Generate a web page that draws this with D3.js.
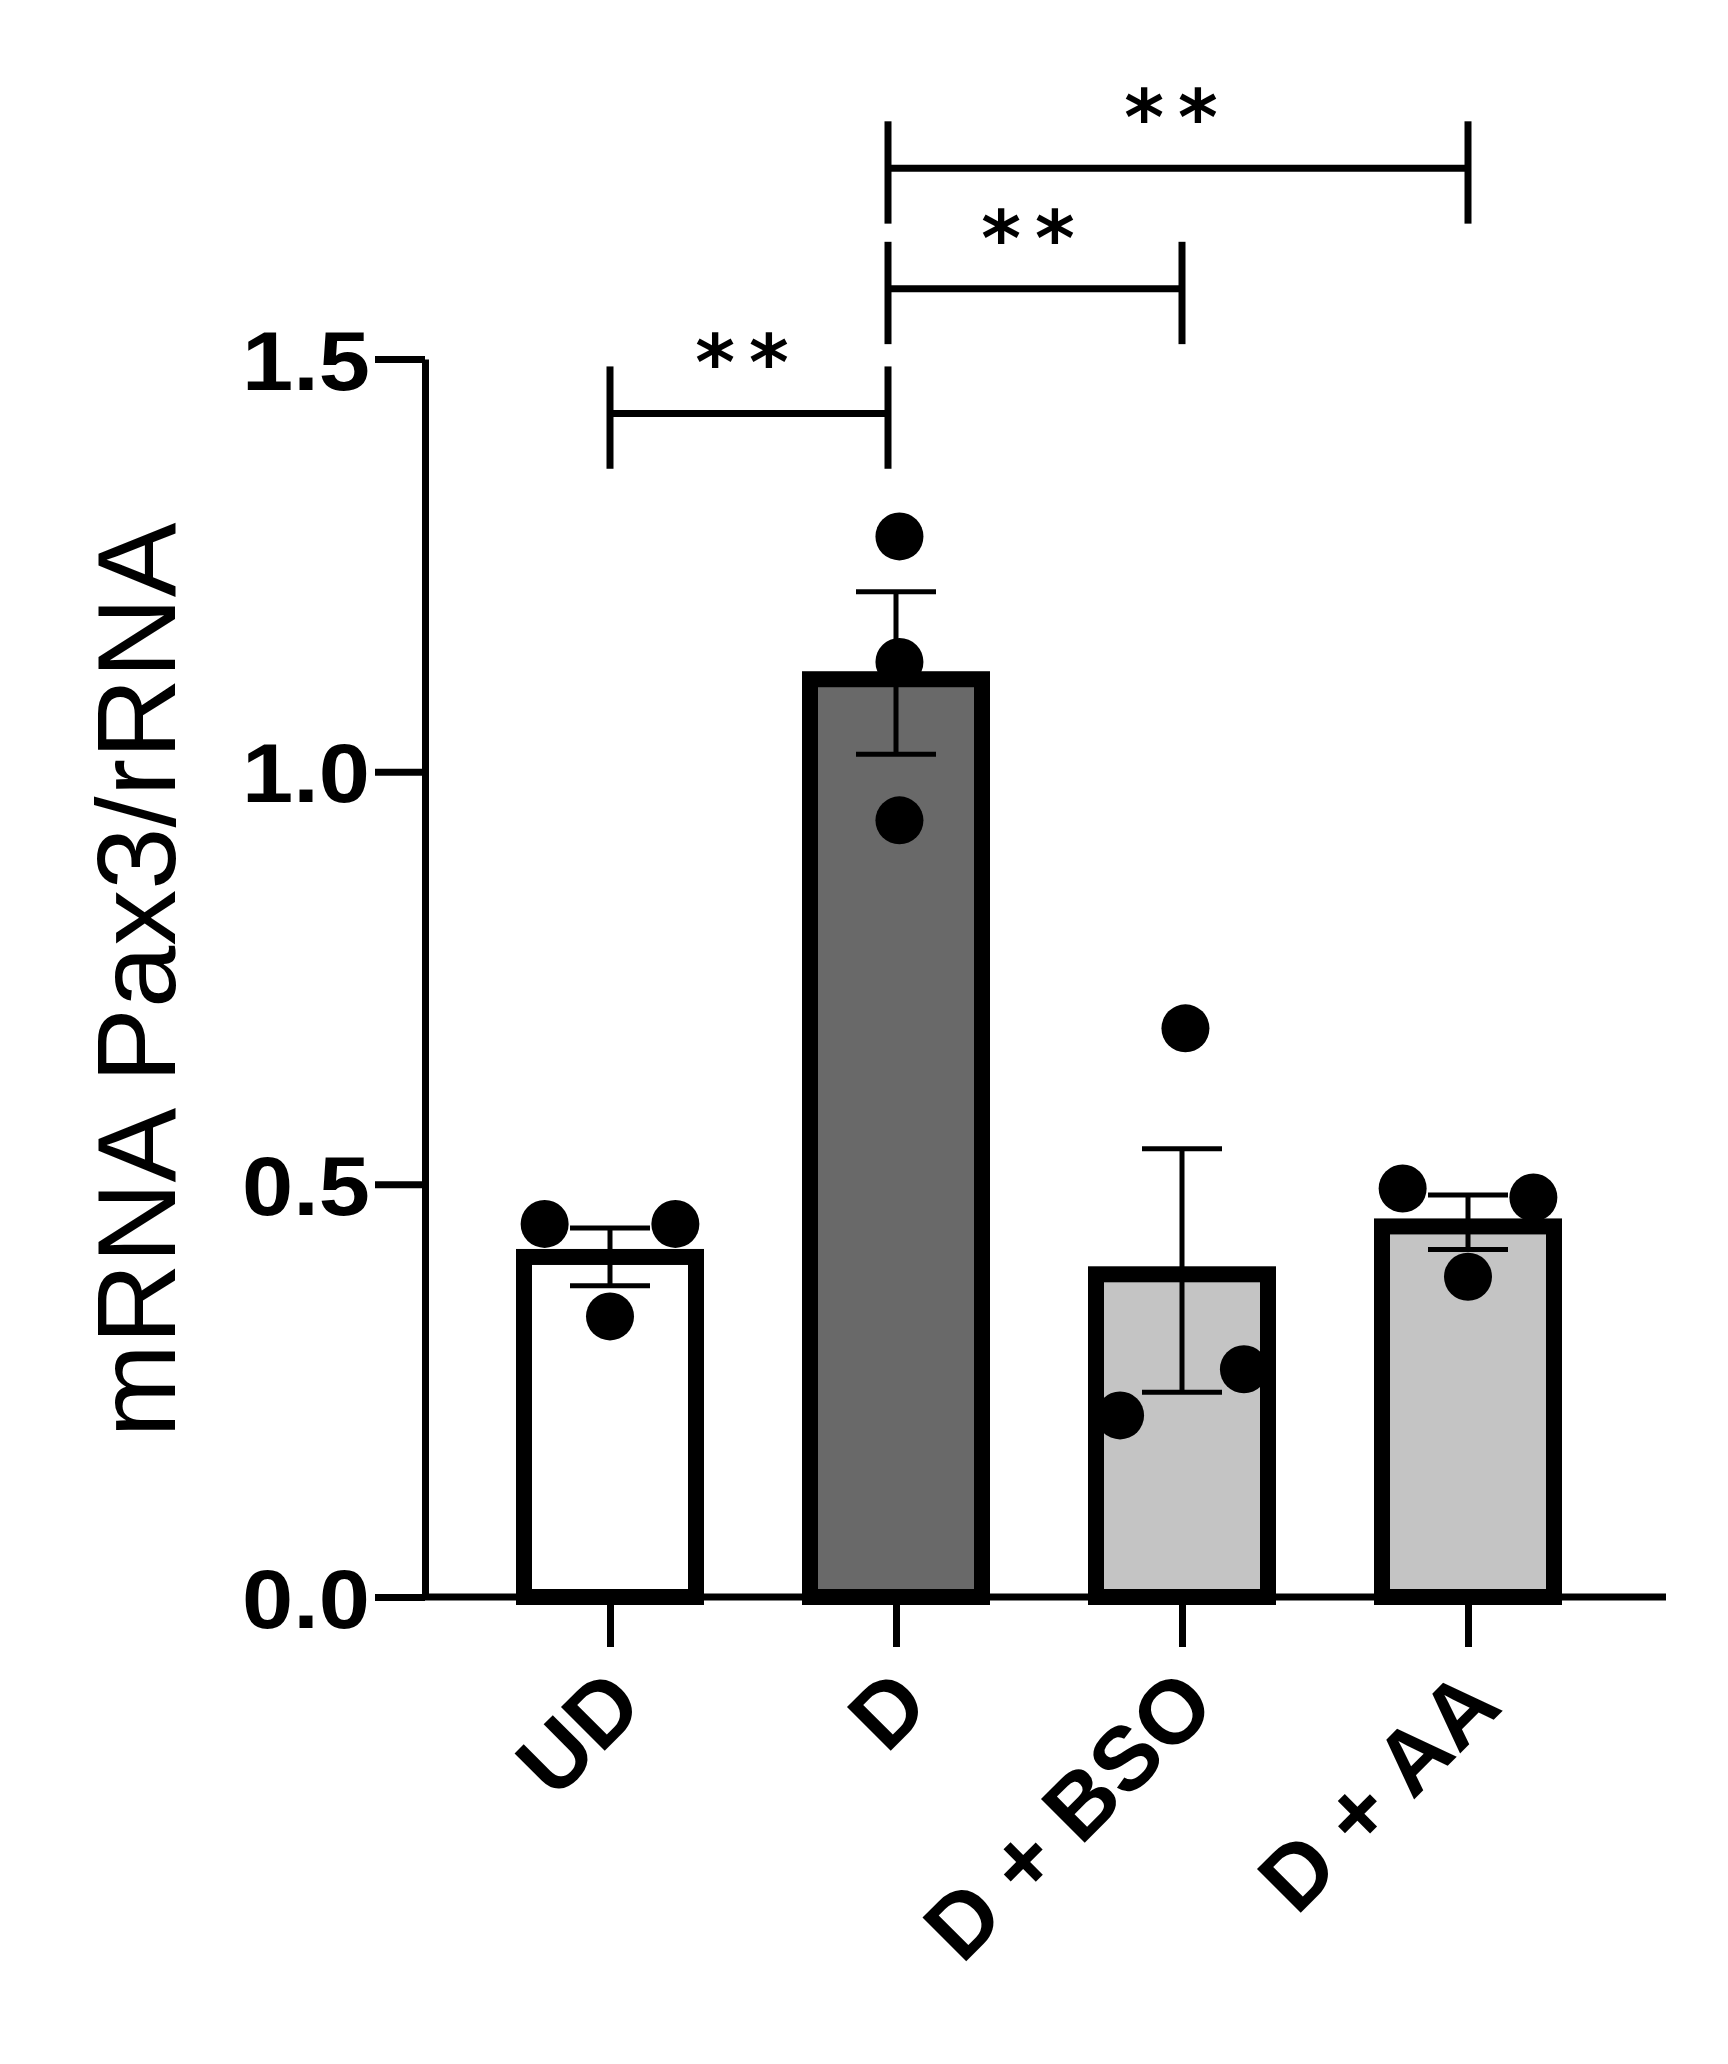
<!DOCTYPE html>
<html><head><meta charset="utf-8">
<script src="https://cdn.jsdelivr.net/npm/d3@7"></script>
<style>body{margin:0;background:#fff}</style></head>
<body><svg id="c" width="1728" height="2064"></svg>
<script>
const categories = ["UD","D","D + BSO","D + AA"];
const means = [0.412, 1.112, 0.391, 0.449];
const errHigh = [0.447, 1.218, 0.543, 0.487];
const errLow = [0.377, 1.021, 0.248, 0.421];
const points = [[0.452,0.452,0.34],[1.285,1.133,0.941],[0.689,0.276,0.22],[0.495,0.484,0.388]];
const pointOffsets = [[-0.38,0.38,0],[0.02,0.02,0.02],[0.02,0.36,-0.36],[-0.38,0.38,0]];
const fills = ["#ffffff","#696969","#c4c4c4","#c4c4c4"];
const yTicks = [0, 0.5, 1.0, 1.5];
const sig = [{a:0,b:1,y:1.434,label:"**"},{a:1,b:2,y:1.585,label:"**"},{a:1,b:3,y:1.731,label:"**"}];

const svg = d3.select("#c");
const y = d3.scaleLinear().domain([0,1.5]).range([1597,359]);
const x = d3.scalePoint().domain(categories).range([610,1468]);
const bw = 172;
const lw = 7;

const ya = svg.append("g").attr("transform","translate(425,0)")
  .call(d3.axisLeft(y).tickValues(yTicks).tickFormat(d3.format(".1f")).tickSize(50).tickSizeOuter(0));
ya.select(".domain").attr("stroke","#000").attr("stroke-width",lw);
ya.selectAll(".tick line").attr("stroke-width",lw);
ya.selectAll("text").attr("font-family","Liberation Sans, Arial").attr("font-weight","bold").attr("font-size",84)
  .attr("dx",-2).attr("dy","0.36em").attr("fill","#000").attr("textLength",128).attr("lengthAdjust","spacingAndGlyphs");

const xa = svg.append("g").attr("transform","translate(0,1597)")
  .call(d3.axisBottom(x).tickSize(50).tickSizeOuter(0));
xa.select(".domain").attr("d","M425,0H1666").attr("stroke","#000").attr("stroke-width",lw);
xa.selectAll(".tick line").attr("stroke-width",lw);
xa.selectAll("text").attr("font-family","Liberation Sans, Arial").attr("font-weight","bold").attr("font-size",90).attr("fill","#000")
  .attr("text-anchor","end").attr("dy",0).attr("y",0)
  .attr("transform","translate(36,112) rotate(-45)");

svg.append("text").attr("transform","translate(175,980) rotate(-90)").attr("text-anchor","middle")
  .attr("font-family","Liberation Sans, Arial").attr("font-size",112).text("mRNA Pax3/rRNA");

svg.selectAll(".bar").data(categories).enter().append("rect")
  .attr("x",d=>x(d)-bw/2).attr("width",bw)
  .attr("y",(d,i)=>y(means[i])).attr("height",(d,i)=>y(0)-y(means[i]))
  .attr("fill",(d,i)=>fills[i]).attr("stroke","#000").attr("stroke-width",16);

categories.forEach((c,i)=>{
  const cx = x(c);
  const g = svg.append("g").attr("stroke","#000").attr("stroke-width",5);
  g.append("line").attr("x1",cx).attr("x2",cx).attr("y1",y(errHigh[i])).attr("y2",y(errLow[i]));
  g.append("line").attr("x1",cx-40).attr("x2",cx+40).attr("y1",y(errHigh[i])).attr("y2",y(errHigh[i]));
  g.append("line").attr("x1",cx-40).attr("x2",cx+40).attr("y1",y(errLow[i])).attr("y2",y(errLow[i]));
  points[i].forEach((v,j)=>{
    svg.append("circle").attr("cx",cx+pointOffsets[i][j]*bw).attr("cy",y(v)).attr("r",24).attr("fill","#000");
  });
});

sig.forEach(s=>{
  const x1 = x(categories[s.a]) + (s.a===1?-8:0), x2 = x(categories[s.b]) + (s.b===1?-8:0);
  const g = svg.append("g").attr("stroke","#000").attr("stroke-width",lw);
  g.append("line").attr("x1",x1).attr("x2",x2).attr("y1",y(s.y)).attr("y2",y(s.y));
  [x1,x2].forEach(xx=>g.append("line").attr("x1",xx).attr("x2",xx).attr("y1",y(s.y+0.057)).attr("y2",y(s.y-0.067)));
  svg.append("text").attr("x",(x1+x2)/2).attr("y",y(s.y)-24).attr("text-anchor","middle")
    .attr("font-family","DejaVu Sans").attr("font-weight","bold").attr("font-size",76).attr("letter-spacing",14).text(s.label);
});
</script></body></html>
